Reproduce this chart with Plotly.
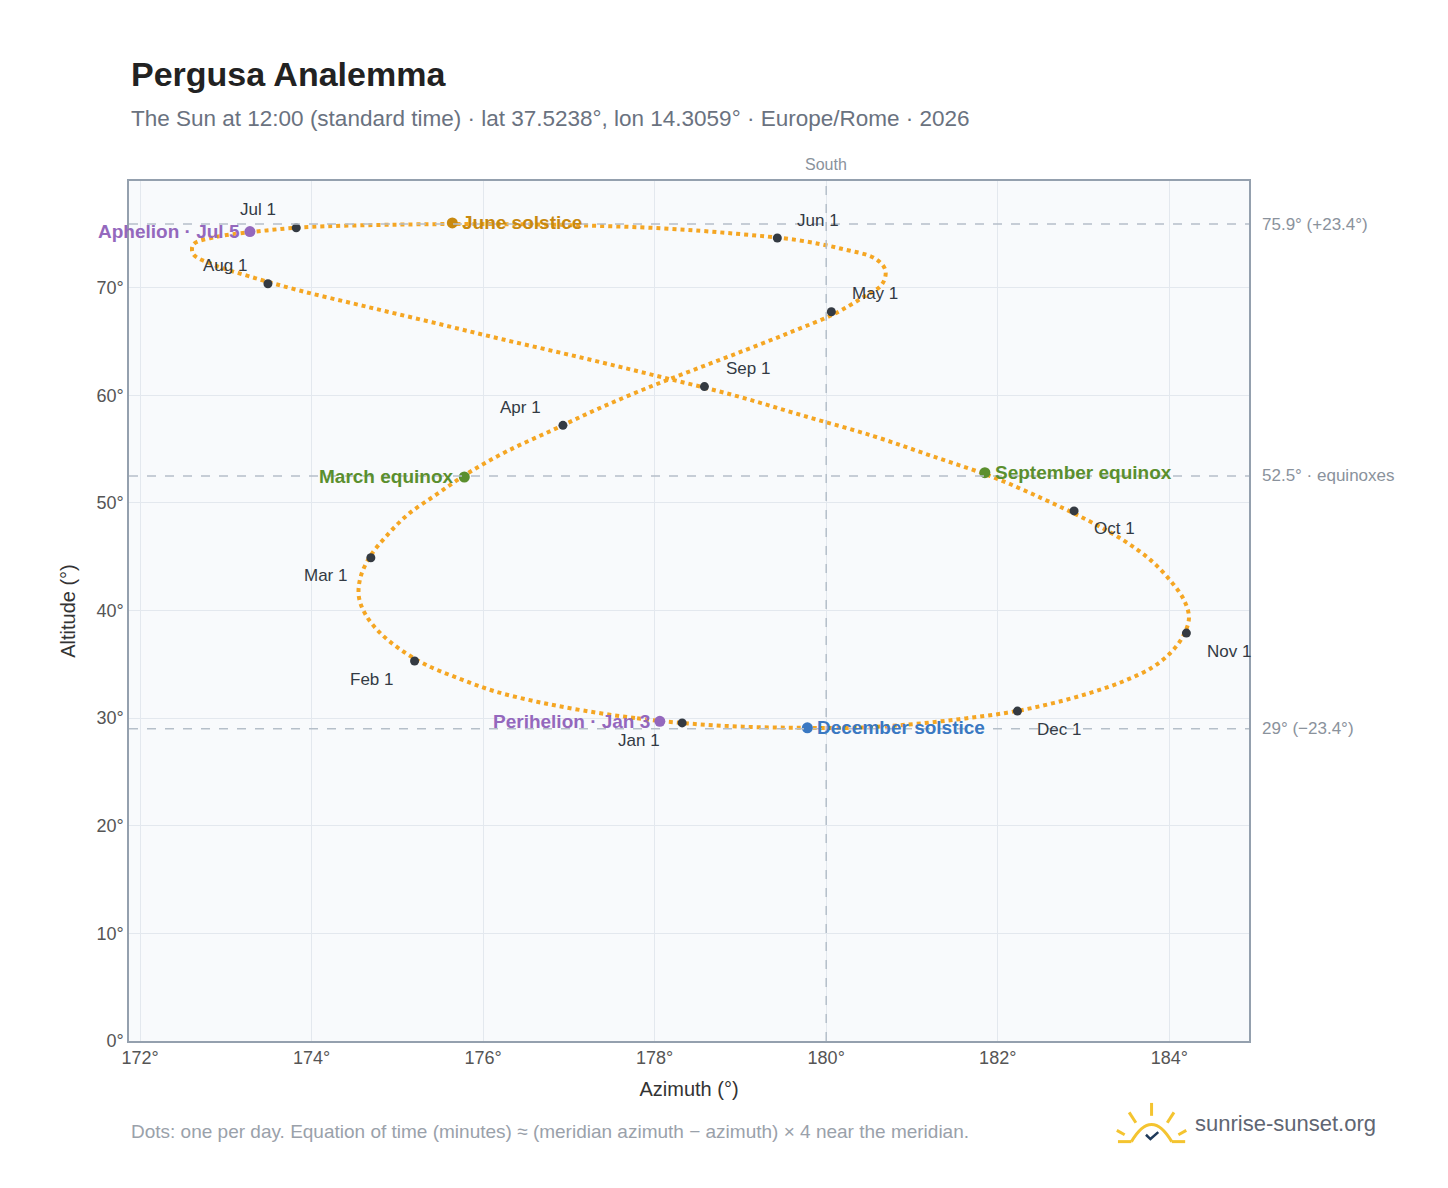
import plotly.graph_objects as go

# path samples (every ~5 days, Jan 1 .. Dec 27)
path_az = [178.39,177.77,177.17,176.64,176.13,175.71,175.32,175.03,174.80,174.63,174.55,174.57,
           174.68,174.87,175.12,175.46,175.83,176.28,176.82,177.33,177.89,178.47,179.06,179.60,
           180.08,180.41,180.65,180.69,180.57,180.18,179.67,178.95,178.09,177.03,176.07,175.03,
           173.90,173.35,172.88,172.62,172.62,172.86,173.29,173.87,174.60,175.39,176.22,177.14,
           178.02,178.92,179.73,180.55,181.25,181.94,182.52,183.02,183.45,183.78,184.01,184.17,
           184.23,184.16,184.02,183.80,183.46,183.06,182.60,182.11,181.55,180.96,180.32,179.69,179.03]
path_alt = [29.5,30.0,30.7,31.5,32.5,33.7,35.0,36.4,37.9,39.6,41.3,43.1,
            45.0,46.9,48.9,50.8,52.8,54.8,56.8,58.7,60.6,62.4,64.2,65.9,
            67.5,69.0,70.3,71.6,72.7,73.6,74.4,75.0,75.5,75.8,75.9,75.85,
            75.6,75.2,74.7,74.0,73.1,72.1,71.0,69.7,68.3,66.8,65.2,63.5,
            61.8,60.0,58.1,56.2,54.3,52.4,50.4,48.5,46.6,44.7,42.8,41.0,
            39.3,37.6,36.1,34.7,33.4,32.3,31.3,30.5,29.9,29.4,29.1,29.1,29.2]

month_labels = ["Jan 1","Feb 1","Mar 1","Apr 1","May 1","Jun 1","Jul 1","Aug 1","Sep 1","Oct 1","Nov 1","Dec 1"]
month_az = [178.32,175.20,174.69,176.93,180.06,179.43,173.82,173.49,178.58,182.89,184.20,182.23]
month_alt = [29.55,35.3,44.9,57.2,67.75,74.6,75.55,70.35,60.8,49.25,37.9,30.65]
month_dx = [-43,-43,-45,-42,44,41,-38,-43,44,40,43,42]
month_dy = [-18,-18,-18,18,18,18,18,18,18,-18,-18,-18]

event_labels = ["March equinox","September equinox","June solstice","December solstice","Perihelion · Jan 3","Aphelion · Jul 5"]
event_az = [175.78,181.85,175.64,179.78,178.06,173.28]
event_alt = [52.4,52.8,76.0,29.1,29.7,75.2]
event_colors = ["#5b8f2e","#5b8f2e","#c8890f","#3a78c2","#9468bd","#9468bd"]
event_xanchor = ["right","left","left","left","right","right"]

ref_alts = [75.9, 52.5, 29.0]
ref_texts = ["75.9° (+23.4°)", "52.5° · equinoxes", "29° (−23.4°)"]

fig = go.Figure()
fig.add_trace(go.Scatter(x=path_az + path_az[:1], y=path_alt + path_alt[:1], mode="lines",
                         line=dict(color="#f5a623", width=4, dash="dot", shape="spline"),
                         hoverinfo="skip", showlegend=False))
fig.add_trace(go.Scatter(x=month_az, y=month_alt, mode="markers",
                         marker=dict(color="#343a42", size=9), showlegend=False))
fig.add_trace(go.Scatter(x=event_az, y=event_alt, mode="markers",
                         marker=dict(color=event_colors, size=11), showlegend=False))

for t, x, y, dx, dy in zip(month_labels, month_az, month_alt, month_dx, month_dy):
    fig.add_annotation(x=x, y=y, text=t, showarrow=False, xshift=dx, yshift=dy,
                       font=dict(size=17, color="#333a44"))
for t, x, y, c, xa in zip(event_labels, event_az, event_alt, event_colors, event_xanchor):
    fig.add_annotation(x=x, y=y, text="<b>%s</b>" % t, showarrow=False, xanchor=xa,
                       xshift=(-8 if xa == "right" else 8), font=dict(size=19, color=c))

for a, t in zip(ref_alts, ref_texts):
    fig.add_shape(type="line", xref="paper", x0=0, x1=1.0, yref="y", y0=a, y1=a,
                  line=dict(color="#b5bfc9", width=1.5, dash="dash"))
    fig.add_annotation(xref="paper", x=1.01, y=a, text=t, showarrow=False, xanchor="left",
                       font=dict(size=17, color="#8a929c"))
fig.add_shape(type="line", x0=180, x1=180, yref="paper", y0=0, y1=1,
              line=dict(color="#b5bfc9", width=1.5, dash="dash"))
fig.add_annotation(x=180, yref="paper", y=1.0, yanchor="bottom", yshift=6, text="South",
                   showarrow=False, font=dict(size=16, color="#8a929c"))

fig.add_annotation(xref="paper", yref="paper", x=0, y=1.149, xanchor="left", showarrow=False,
                   text="<b>Pergusa Analemma</b>", font=dict(size=34, color="#222"))
fig.add_annotation(xref="paper", yref="paper", x=0, y=1.0895, xanchor="left", showarrow=False,
                   text="The Sun at 12:00 (standard time) · lat 37.5238°, lon 14.3059° · Europe/Rome · 2026",
                   font=dict(size=22.5, color="#6a7280"))
fig.add_annotation(xref="paper", yref="paper", x=0, y=-0.1196, xanchor="left", showarrow=False,
                   text="Dots: one per day. Equation of time (minutes) ≈ (meridian azimuth − azimuth) × 4 near the meridian.",
                   font=dict(size=19, color="#9aa1aa"))
fig.add_annotation(xref="paper", yref="paper", x=1.115, y=-0.113, xanchor="right", showarrow=False,
                   text="sunrise-sunset.org", font=dict(size=22, color="#5f6673"))
# sun logo
sx, sy = 0.913, -0.117
fig.add_shape(type="path", xref="paper", yref="paper",
              path="M %f %f Q %f %f %f %f" % (sx - 0.018, sy, sx, sy + 0.04, sx + 0.018, sy),
              line=dict(color="#f4c430", width=3))
for x0, y0, x1, y1 in [(sx, sy + 0.03, sx, sy + 0.045), (sx - 0.014, sy + 0.022, sx - 0.02, sy + 0.034),
                       (sx + 0.014, sy + 0.022, sx + 0.02, sy + 0.034), (sx - 0.024, sy + 0.008, sx - 0.031, sy + 0.013),
                       (sx + 0.024, sy + 0.008, sx + 0.031, sy + 0.013), (sx - 0.03, sy, sx - 0.018, sy),
                       (sx + 0.018, sy, sx + 0.03, sy)]:
    fig.add_shape(type="line", xref="paper", yref="paper", x0=x0, y0=y0, x1=x1, y1=y1,
                  line=dict(color="#f4c430", width=3))
fig.add_shape(type="path", xref="paper", yref="paper",
              path="M %f %f L %f %f L %f %f" % (sx - 0.005, sy + 0.008, sx - 0.001, sy + 0.003, sx + 0.006, sy + 0.011),
              line=dict(color="#1f3a5a", width=2.5))

fig.update_layout(
    width=1448, height=1188, margin=dict(l=121, r=207, t=173, b=155),
    paper_bgcolor="white", plot_bgcolor="#f8fafc",
    font=dict(family="Liberation Sans, Arial", color="#555"),
    xaxis=dict(range=[171.87, 184.93], dtick=2, tick0=172, ticksuffix="°", gridcolor="#e3e8ee",
               showline=True, linecolor="#94a0ae", linewidth=1.5, mirror=True, zeroline=False,
               title=dict(text="Azimuth (°)", font=dict(size=20, color="#333")),
               tickfont=dict(size=18, color="#555")),
    yaxis=dict(range=[0, 79.9], dtick=10, ticksuffix="°", gridcolor="#e3e8ee",
               showline=True, linecolor="#94a0ae", linewidth=1.5, mirror=True, zeroline=False,
               title=dict(text="Altitude (°)", font=dict(size=20, color="#333")),
               tickfont=dict(size=18, color="#555")),
)
fig.write_html("out.html")
